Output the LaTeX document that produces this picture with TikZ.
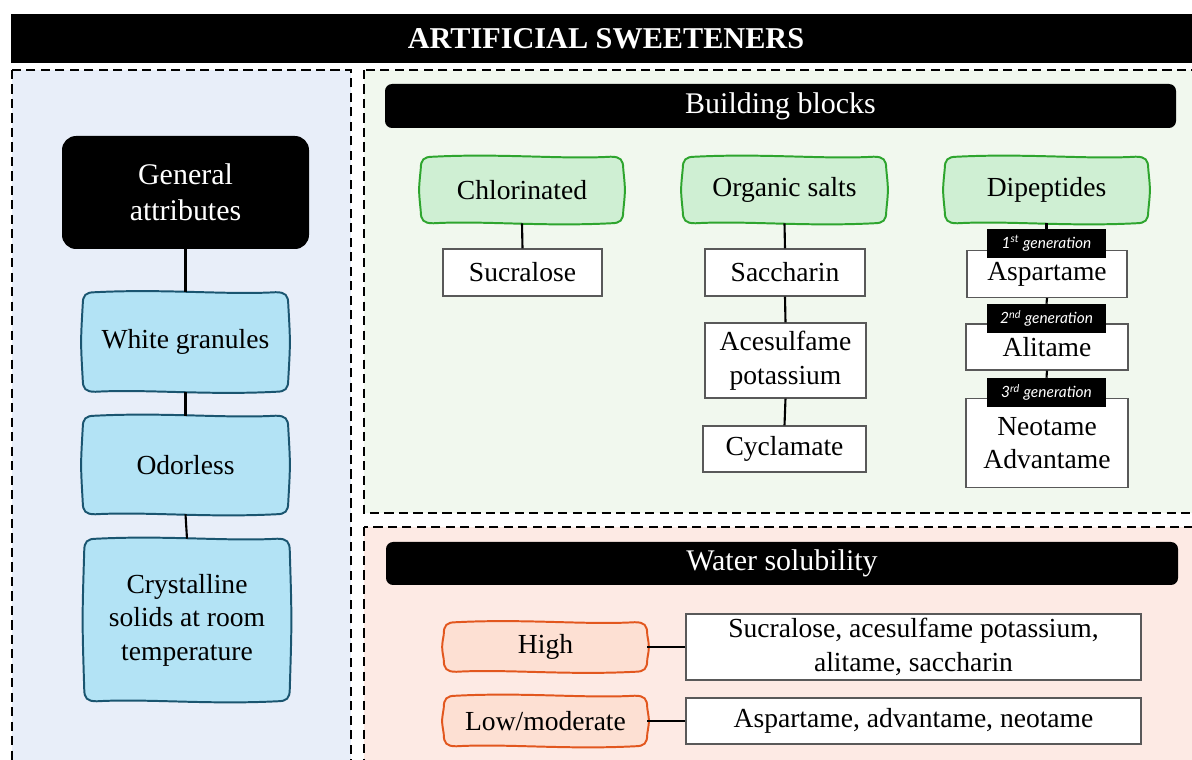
\documentclass[tikz,border=0pt]{standalone}
\usepackage{fontspec}
\setmainfont{Liberation Serif}
\newfontfamily\genfont{Lato}
\usetikzlibrary{backgrounds,calc}

\definecolor{leftbg}{HTML}{E8EEF9}
\definecolor{topbg}{HTML}{F1F8EE}
\definecolor{botbg}{HTML}{FDEAE4}
\definecolor{blueFill}{HTML}{B3E3F5}
\definecolor{blueLine}{HTML}{1A5570}
\definecolor{greenFill}{HTML}{CFEFD3}
\definecolor{greenLine}{HTML}{2EA52E}
\definecolor{orangeFill}{HTML}{FDE0D3}
\definecolor{orangeLine}{HTML}{E2571E}

\newcommand{\px}{0.025cm}
\newcommand{\bodysize}{\rmfamily\fontsize{19.6}{23.8}\selectfont}
\newcommand{\headsize}{\rmfamily\fontsize{21.3}{25.6}\selectfont}

% Hand-drawn frame round a node, put behind it.
\newcommand{\wavyframe}[2]{%
  \begin{scope}[on background layer]
    \path[#2] let \p1=(#1.north west), \p2=(#1.south east) in
      (\x1,\y1-9pt) .. controls (\x1,\y1-2pt) and (\x1+2pt,\y1) .. (\x1+9pt,\y1)
      .. controls ({\x1+0.4*(\x2-\x1)},\y1+2.5pt) and ({\x1+0.7*(\x2-\x1)},\y1-2pt) .. (\x2-9pt,\y1)
      .. controls (\x2-2pt,\y1) and (\x2,\y1-2pt) .. (\x2,\y1-9pt)
      .. controls (\x2+1.5pt,{\y1+0.5*(\y2-\y1)}) .. (\x2,\y2+9pt)
      .. controls (\x2,\y2+2pt) and (\x2-2pt,\y2) .. (\x2-9pt,\y2)
      .. controls ({\x1+0.6*(\x2-\x1)},\y2-2.5pt) and ({\x1+0.3*(\x2-\x1)},\y2+2pt) .. (\x1+9pt,\y2)
      .. controls (\x1+2pt,\y2) and (\x1,\y2+2pt) .. (\x1,\y2+9pt)
      .. controls (\x1-1.5pt,{\y1+0.5*(\y2-\y1)}) .. (\x1,\y1-9pt) -- cycle;
  \end{scope}}

\tikzset{
  sized/.style 2 args={minimum width={#1*\px}, minimum height={#2*\px}},
  panel/.style={draw=black, line width=2.1pt, dash pattern=on 6.5pt off 3.8pt},
  bar/.style={fill=black, text=white, rounded corners=5pt, inner sep=0pt, font=\headsize},
  blackbox/.style={fill=black, text=white, rounded corners=10pt, inner sep=0pt,
    align=center, font=\headsize},
  wavy/.style={inner sep=0pt, align=center, font=\bodysize},
  bluewave/.style={fill=blueFill, draw=blueLine, line width=1.4pt},
  greenwave/.style={fill=greenFill, draw=greenLine, line width=1.4pt},
  orangewave/.style={fill=orangeFill, draw=orangeLine, line width=1.4pt},
  item/.style={draw=black!65, line width=0.8pt, fill=white, inner sep=0pt,
    align=center, font=\bodysize},
  genlabel/.style={fill=black, text=white, inner sep=0pt, sized={119}{29},
    font=\genfont\itshape\fontsize{11}{13}\selectfont},
  link/.style={draw=black, line width=1.5pt}
}

\begin{document}
\begin{tikzpicture}[x=0.025cm,y=-0.025cm]
    \useasboundingbox (0,0) rectangle (1192,760);

    % Dashed panels behind everything.
    \begin{scope}[on background layer]
        \fill[white] (0,0) rectangle (1192,760);
        \filldraw[panel,fill=leftbg] (12,70) rectangle (351,800);
        \filldraw[panel,fill=topbg] (364,70) rectangle (1230,513);
        \filldraw[panel,fill=botbg] (364,527) rectangle (1230,800);
    \end{scope}

    % Title bar.
    \node[fill=black, text=white, inner sep=0pt, sized={1190}{49},
        font=\rmfamily\bfseries\fontsize{21.5}{26}\selectfont] (title) at (606,38.5)
        {ARTIFICIAL SWEETENERS};

    % General attributes column.
    \node[blackbox, sized={247}{113}] (general) at (185.5,192.5) {General\\attributes};
    \node[wavy, sized={205}{99}] (granules) at (185.5,342) {White granules};
    \node[wavy, sized={205}{98}] (odorless) at (185.5,465) {Odorless};
    \node[wavy, sized={205}{162}] (crystal) at (187,620)
        {Crystalline\\solids at room\\temperature};
    \wavyframe{granules}{bluewave}
    \wavyframe{odorless}{bluewave}
    \wavyframe{crystal}{bluewave}
    \draw[link] (general.south) -- (granules.north);
    \draw[link] (granules.south) -- (odorless.north);
    \draw[link] (odorless.south) -- (crystal.north);

    % Building blocks.
    \node[bar, sized={791}{44}] (blocks) at (780.5,106) {Building blocks};
    \node[wavy, sized={202}{66}] (chlor) at (522,190) {Chlorinated};
    \node[wavy, sized={203}{66}] (organic) at (784.5,190) {Organic salts};
    \node[wavy, sized={203}{66}] (dipep) at (1046.5,190) {Dipeptides};
    \wavyframe{chlor}{greenwave}
    \wavyframe{organic}{greenwave}
    \wavyframe{dipep}{greenwave}

    \node[item, sized={159}{47}] (sucral) at (522.5,272.5) {Sucralose};
    \node[item, sized={160}{47}] (sacch) at (785,272.5) {Saccharin};
    \node[item, sized={161}{75}] (acesulf) at (785.5,360.5) {Acesulfame\\potassium};
    \node[item, sized={163}{46}] (cycl) at (784.5,449) {Cyclamate};
    \node[item, sized={160}{47}] (aspart) at (1047,274) {Aspartame};
    \node[item, sized={162}{46}] (alit) at (1047,347) {Alitame};
    \node[item, sized={162}{89}] (neot) at (1047,443) {Neotame\\Advantame};

    \node[genlabel] (gen1) at (1046.5,243.5) {1\textsuperscript{st} generation};
    \node[genlabel] (gen2) at (1046.5,318.5) {2\textsuperscript{nd} generation};
    \node[genlabel] (gen3) at (1046.5,392.5) {3\textsuperscript{rd} generation};

    \draw[link] (chlor.south) -- (sucral.north);
    \draw[link] (organic.south) -- (sacch.north);
    \draw[link] (sacch.south) -- (acesulf.north);
    \draw[link] (acesulf.south) -- (cycl.north);
    \draw[link] (dipep.south) -- (gen1.north);
    \draw[link] (aspart.south) -- (gen2.north);
    \draw[link] (alit.south) -- (gen3.north);

    % Water solubility.
    \node[bar, sized={792}{43}] (solub) at (782,563.5) {Water solubility};
    \node[wavy, sized={203}{49}] (high) at (545.5,647) {High};
    \node[wavy, sized={203}{50}] (low) at (545.5,721) {Low/moderate};
    \wavyframe{high}{orangewave}
    \wavyframe{low}{orangewave}
    \node[item, sized={455}{66}] (highlist) at (913.5,647)
        {Sucralose, acesulfame potassium,\\alitame, saccharin};
    \node[item, sized={455}{46}] (lowlist) at (913.5,721)
        {Aspartame, advantame, neotame};
    \draw[link] (high.east) -- (highlist.west);
    \draw[link] (low.east) -- (lowlist.west);
\end{tikzpicture}
\end{document}
